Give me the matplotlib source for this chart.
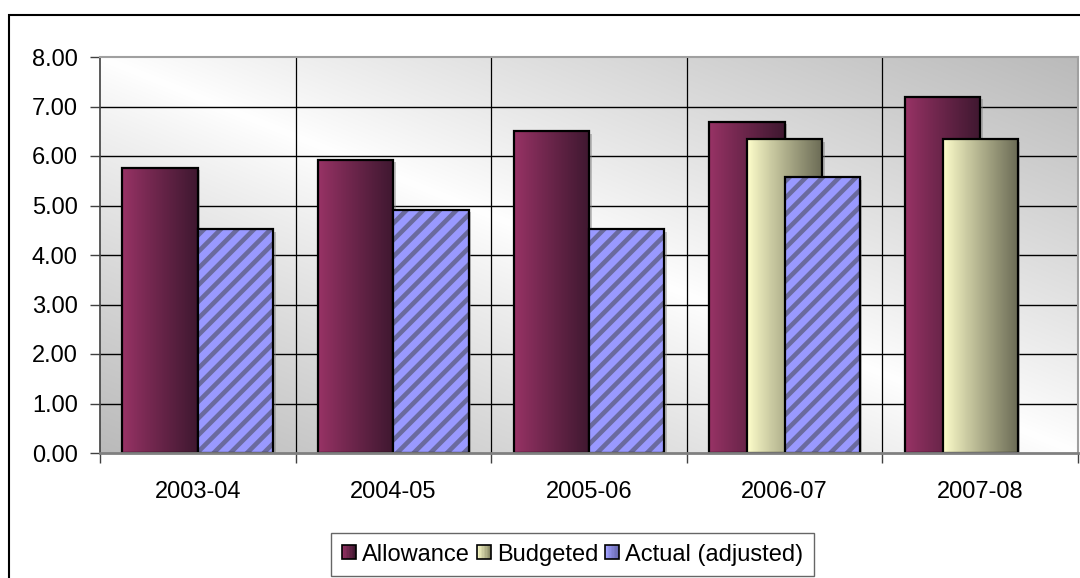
import numpy as np
import matplotlib
matplotlib.use("Agg")
from matplotlib import pyplot as plt
from matplotlib.colors import to_rgb
from matplotlib.legend_handler import HandlerBase
from matplotlib.patches import Patch, Rectangle
from matplotlib.transforms import ScaledTranslation

categories = ["2003-04", "2004-05", "2005-06", "2006-07", "2007-08"]
allowance = [5.76, 5.92, 6.50, 6.69, 7.20]
budgeted = [np.nan, np.nan, np.nan, 6.34, 6.34]
actual = [4.52, 4.91, 4.52, 5.57, np.nan]
series_names = ["Allowance", "Budgeted", "Actual (adjusted)"]
y_ticks = [0, 1, 2, 3, 4, 5, 6, 7, 8]

plt.rcParams["font.family"] = ["Liberation Sans", "DejaVu Sans"]
plt.rcParams["hatch.linewidth"] = 3.3

FS = 17
BAR_W = 0.385
OFFSET = 0.1925


def mix(c0, c1, t):
    a, b = np.array(to_rgb(c0)), np.array(to_rgb(c1))
    return tuple(a + (b - a) * t)


class GradientHandler(HandlerBase):
    def __init__(self, c0, c1):
        super().__init__()
        self.c0, self.c1 = c0, c1

    def create_artists(self, legend, orig_handle, xdescent, ydescent,
                       width, height, fontsize, trans):
        side = min(width, height)
        x0 = -xdescent + (width - side) / 2
        y0 = -ydescent + (height - side) / 2
        arts = []
        n = 10
        for i in range(n):
            arts.append(Rectangle((x0 + i * side / n, y0), side / n, side,
                                  facecolor=mix(self.c0, self.c1, i / (n - 1)),
                                  edgecolor="none", transform=trans))
        arts.append(Rectangle((x0, y0), side, side, fill=False,
                              edgecolor="black", lw=1.2, transform=trans))
        return arts


fig = plt.figure(figsize=(10.8, 5.78), dpi=100)
ax = fig.add_axes([100 / 1080, 1 - 453 / 578, 978 / 1080, 396 / 578])

# plot area background: white along the main diagonal, grey in the other corners
gx, gy = np.meshgrid(np.linspace(0, 1, 300), np.linspace(1, 0, 200))
shade = 1 - 0.27 * np.abs(gx + gy - 1) ** 0.9
ax.imshow(np.dstack([shade] * 3), extent=(-0.5, 4.5, 0, 8), aspect="auto",
          zorder=0, interpolation="bilinear")

for y in y_ticks[1:-1]:
    ax.axhline(y, color="black", lw=1.0, zorder=1)
for x in np.arange(0.5, 4.5, 1.0):
    ax.axvline(x, color="black", lw=0.9, zorder=1)

shadow_tr = ax.transData + ScaledTranslation(2.5 / 100, -2.5 / 100, fig.dpi_scale_trans)
styles = [
    ("#993366", "#3f1830", None),
    ("#ffffcc", "#6b6b55", None),
    ("#9999ff", "#6a6a9e", "//"),
]
x = np.arange(len(categories))
for k, (values, (c0, c1, hatch)) in enumerate(zip([allowance, budgeted, actual], styles)):
    base = 2 + k
    for i, v in enumerate(values):
        if np.isnan(v):
            continue
        left = x[i] + (k - 1) * OFFSET - BAR_W / 2
        ax.add_patch(Rectangle((left, 0), BAR_W, v, facecolor="#808080", alpha=0.45,
                               edgecolor="none", transform=shadow_tr, zorder=base - 0.1))
        if hatch:
            ax.bar(left, v, BAR_W, align="edge", facecolor=c0, edgecolor=c1,
                   hatch=hatch, lw=0, zorder=base)
        else:
            grad = np.linspace(0, 1, 64)
            img = np.array([[mix(c0, c1, t ** 0.9) for t in grad]])
            ax.imshow(img, extent=(left, left + BAR_W, 0, v), aspect="auto",
                      zorder=base, interpolation="bilinear")
        ax.bar(left, v, BAR_W, align="edge", fill=False, edgecolor="black",
               lw=1.6, zorder=base + 0.05)

ax.set_xlim(-0.5, 4.5)
ax.set_ylim(0, 8)
ax.set_yticks(y_ticks)
ax.set_yticklabels([f"{t:.2f}" for t in y_ticks], fontsize=FS)
ax.set_xticks(x)
ax.set_xticklabels(categories, fontsize=FS)
ax.set_xticks(np.arange(-0.5, 5.0, 1.0), minor=True)
ax.tick_params(axis="x", which="major", length=0, pad=20)
ax.tick_params(axis="x", which="minor", length=7, width=1, color="#404040", direction="out")
ax.tick_params(axis="y", length=7, width=1, color="#404040", direction="out", pad=9)

for side in ("top", "right"):
    ax.spines[side].set_color("#a0a0a0")
    ax.spines[side].set_linewidth(1.5)
ax.spines["bottom"].set_color("#808080")
ax.spines["bottom"].set_linewidth(2)
ax.spines["left"].set_color("#404040")
ax.spines["left"].set_linewidth(1.2)
for s in ax.spines.values():
    s.set_zorder(6)

# outer chart border, running past the right and bottom edges
fig.add_artist(Rectangle((9 / 1080, -0.1), 1.2, 1.1 - 15 / 578, fill=False,
                         edgecolor="black", lw=1.5, transform=fig.transFigure))

handles = [Patch(label=n) for n in series_names]
handler_map = {
    handles[0]: GradientHandler("#993366", "#3f1830"),
    handles[1]: GradientHandler("#ffffcc", "#8a8a66"),
    handles[2]: GradientHandler("#a0a0ff", "#6666aa"),
}
leg = fig.legend(handles=handles, handler_map=handler_map, ncol=3,
                 loc="upper left", bbox_to_anchor=(331 / 1080, 1 - 533 / 578),
                 fontsize=FS, frameon=True, fancybox=False, handlelength=0.6,
                 handleheight=0.6, handletextpad=0.25, columnspacing=0.3,
                 borderpad=0.45, borderaxespad=0)
leg.get_frame().set_edgecolor("#404040")
leg.get_frame().set_linewidth(1.0)

fig.savefig("out.png", dpi=100)
